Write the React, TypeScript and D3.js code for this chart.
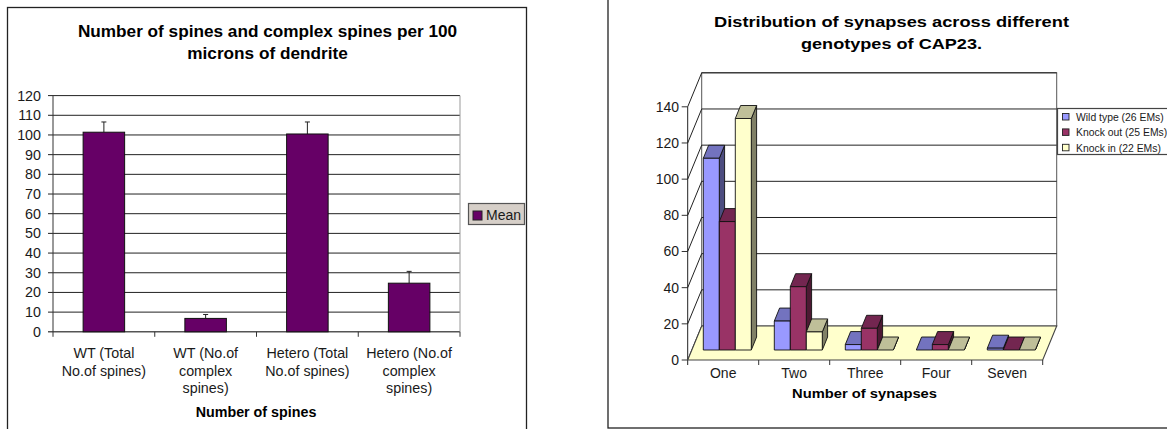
import React from "react";
import * as d3 from "d3";

// Spine counts per 100 microns of dendrite
const spineCategories = ["WT (Total|No.of spines)", "WT (No.of|complex|spines)", "Hetero (Total|No.of spines)", "Hetero (No.of|complex|spines)"];
const spineMeans = [101.4, 6.8, 100.5, 24.7];
const spineErrors = [5.2, 2.0, 6.1, 6.0];
const spineTicks = [0, 10, 20, 30, 40, 50, 60, 70, 80, 90, 100, 110, 120];

// Synapse distribution per genotype of CAP23
const synapseCategories = ["One", "Two", "Three", "Four", "Seven"];
const wildType = [106, 16, 3, 0, 1];
const knockOut = [71, 35, 12, 3, 0];
const knockIn = [128, 10, 0, 0, 0];
const synapseTicks = [0, 20, 40, 60, 80, 100, 120, 140];
const genotypes = ["Wild type (26 EMs)", "Knock out (25 EMs)", "Knock in (22 EMs)"];
const genotypeValues = [wildType, knockOut, knockIn];

const faceColors = [
  { front: "#9999ff", top: "#7373bf", side: "#4d4d80" },
  { front: "#993366", top: "#732650", side: "#4d1933" },
  { front: "#ffffcc", top: "#bfbf99", side: "#808066" },
];

const FONT = "'Liberation Sans', Arial, sans-serif";
const INK = "#1a1a1a";

function SpineChart() {
  const left = 53, right = 460, top = 95.6, bottom = 331.8;
  const x = d3.scaleBand<string>().domain(spineCategories).range([left, right]).paddingInner(0.592).paddingOuter(0.296);
  const band = (right - left) / spineCategories.length;
  const y = d3.scaleLinear().domain([0, 120]).range([bottom, top]);
  return (
    <g fontFamily={FONT} fill={INK}>
      <rect x={7.5} y={7.5} width={519} height={440} fill="#fff" stroke="#222" strokeWidth={1.3} />
      <text x={267.5} y={37} textAnchor="middle" fontSize={17.2} fontWeight="bold" fill="#000">Number of spines and complex spines per 100</text>
      <text x={267.5} y={59} textAnchor="middle" fontSize={17.2} fontWeight="bold" fill="#000">microns of dendrite</text>

      {spineTicks.map((t) => (
        <g key={t}>
          <line x1={left - 5} x2={right} y1={y(t)} y2={y(t)} stroke={t === 0 ? "#555" : "#222"} strokeWidth={t === 0 ? 1.4 : 1} />
          <text x={41} y={y(t) + 5} textAnchor="end" fontSize={14.3}>{t}</text>
        </g>
      ))}
      <line x1={left} x2={left} y1={top} y2={bottom + 5} stroke="#333" />
      <line x1={right} x2={right} y1={top} y2={bottom} stroke="#999" />
      {spineCategories.map((c, i) => (
        <line key={c} x1={left + band * (i + 1)} x2={left + band * (i + 1)} y1={bottom} y2={bottom + 5} stroke="#333" />
      ))}

      {spineCategories.map((c, i) => {
        const bx = x(c)!;
        const cx = bx + x.bandwidth() / 2;
        const capY = y(spineMeans[i] + spineErrors[i]);
        return (
          <g key={c}>
            <line x1={cx} x2={cx} y1={y(spineMeans[i])} y2={capY} stroke="#222" />
            <line x1={cx - 2.5} x2={cx + 2.5} y1={capY} y2={capY} stroke="#222" />
            <rect x={bx} y={y(spineMeans[i])} width={x.bandwidth()} height={bottom - y(spineMeans[i])} fill="#660066" stroke="#111" strokeWidth={1} />
            {c.split("|").map((line, k) => (
              <text key={k} x={cx} y={357.7 + k * 17.8} textAnchor="middle" fontSize={14.3}>{line}</text>
            ))}
          </g>
        );
      })}
      <text x={256} y={417} textAnchor="middle" fontSize={14.3} fontWeight="bold" fill="#000">Number of spines</text>

      <rect x={468.5} y={203.5} width={56} height={21} fill="#d6cfc8" stroke="#555" strokeWidth={1.2} />
      <rect x={473} y={211} width={9} height={9} fill="#660066" stroke="#222" />
      <text x={486} y={219.5} fontSize={14}>Mean</text>
    </g>
  );
}

function SynapseChart() {
  const frontLeft = 687.7, frontRight = 1042.7, frontZero = 360;
  const depthX = 14, depthY = 34;
  const backLeft = frontLeft + depthX, backRight = frontRight + depthX, backZero = frontZero - depthY;
  // Height of a value above the floor, shared by the walls and the bars
  const h = d3.scaleLinear().domain([0, 140]).range([0, 253.2]);
  const x = d3.scaleBand<string>().domain(synapseCategories).range([frontLeft, frontRight]);
  const inner = d3.scaleBand<number>().domain([0, 1, 2]).range([11.5, 59.5]);
  // The row of bars sits partway into the floor
  const barInset = 4.1, barBase = 350, barDX = 5.3, barDY = 13;
  const poly = (pts: number[][]) => pts.map((p) => p.join(",")).join(" ");

  return (
    <g fontFamily={FONT} fill={INK}>
      <rect x={608} y={-20} width={600} height={448} fill="#fff" stroke="#222" strokeWidth={1.3} />
      <text x={891.5} y={27.3} textAnchor="middle" fontSize={15.4} fontWeight="bold" fill="#000" textLength={355} lengthAdjust="spacingAndGlyphs">Distribution of synapses across different</text>
      <text x={891.5} y={48.5} textAnchor="middle" fontSize={15.4} fontWeight="bold" fill="#000" textLength={181} lengthAdjust="spacingAndGlyphs">genotypes of CAP23.</text>

      {/* walls and gridlines */}
      <rect x={backLeft} y={backZero - h(140)} width={backRight - backLeft} height={h(140)} fill="#fff" stroke="#555" />
      {synapseTicks.map((t) => (
        <g key={t}>
          {t > 0 && <line x1={backLeft} x2={backRight} y1={backZero - h(t)} y2={backZero - h(t)} stroke="#222" strokeWidth={1} />}
          <line x1={frontLeft} y1={frontZero - h(t)} x2={backLeft} y2={backZero - h(t)} stroke="#222" />
          <line x1={frontLeft - 6} x2={frontLeft} y1={frontZero - h(t)} y2={frontZero - h(t)} stroke="#333" />
          <text x={679} y={frontZero - h(t) + 5} textAnchor="end" fontSize={14}>{t}</text>
        </g>
      ))}
      <line x1={frontLeft} x2={frontLeft} y1={frontZero - h(140)} y2={frontZero + 5} stroke="#222" />

      {/* floor */}
      <polygon
        points={poly([[frontLeft, frontZero], [backLeft, backZero], [backRight, backZero], [frontRight, frontZero]])}
        fill="#ffffcc"
        stroke="#444"
        strokeWidth={1.1}
      />
      {synapseCategories.map((c, i) => (
        <line key={c} x1={x(c)! + x.bandwidth()} x2={x(c)! + x.bandwidth()} y1={frontZero} y2={frontZero + 5} stroke="#333" />
      ))}

      {/* bars: each category left to right, so a later bar covers the side of the one before it */}
      {synapseCategories.map((c, i) => (
        <g key={c}>
          {genotypeValues.map((vals, s) => {
            const x0 = x(c)! + barInset + inner(s)!;
            const x1 = x0 + inner.bandwidth();
            const yt = barBase - h(vals[i]);
            const col = faceColors[s];
            return (
              <g key={s} stroke="#111" strokeWidth={0.9} strokeLinejoin="round">
                <polygon fill={col.side} points={poly([[x1, barBase], [x1 + barDX, barBase - barDY], [x1 + barDX, yt - barDY], [x1, yt]])} />
                <polygon fill={col.top} points={poly([[x0, yt], [x0 + barDX, yt - barDY], [x1 + barDX, yt - barDY], [x1, yt]])} />
                <rect x={x0} y={yt} width={x1 - x0} height={barBase - yt} fill={col.front} />
              </g>
            );
          })}
          <text x={x(c)! + x.bandwidth() / 2} y={378} textAnchor="middle" fontSize={14}>{c}</text>
        </g>
      ))}
      <text x={864.5} y={398} textAnchor="middle" fontSize={13.4} fontWeight="bold" fill="#000" textLength={145} lengthAdjust="spacingAndGlyphs">Number of synapses</text>

      {/* legend runs to the edge of the frame */}
      <rect x={1057.5} y={108.5} width={130} height={46} fill="#fff" stroke="#444" strokeWidth={1.2} />
      {genotypes.map((g, s) => (
        <g key={g}>
          <rect x={1062.5} y={113.5 + s * 15.4} width={6.5} height={6.5} fill={faceColors[s].front} stroke="#222" strokeWidth={0.9} />
          <text x={1076} y={121 + s * 15.4} fontSize={10.4}>{g}</text>
        </g>
      ))}
    </g>
  );
}

export default function App() {
  return (
    <svg width={1167} height={429} viewBox="0 0 1167 429" style={{ position: "fixed", left: 0, top: 0, display: "block", background: "#fff" }}>
      <SpineChart />
      <SynapseChart />
    </svg>
  );
}
